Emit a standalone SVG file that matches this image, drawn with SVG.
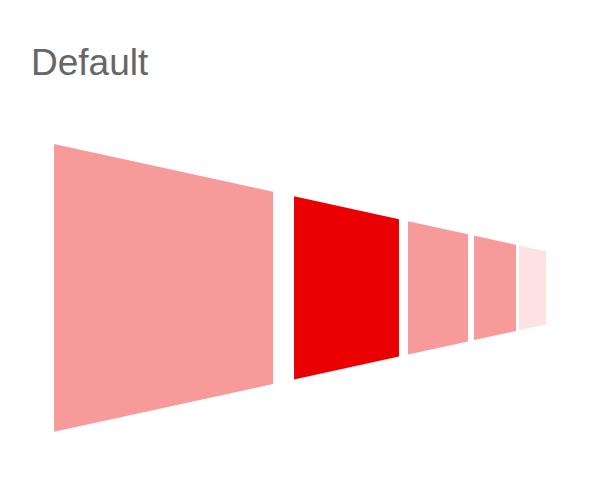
<svg xmlns="http://www.w3.org/2000/svg" width="600" height="486" viewBox="0 0 600 486">
<style>
.title{font-family:"Liberation Sans",Arial,sans-serif;font-size:37px;fill:#666666}
.pink{fill:#f69a9a}
.red{fill:#ea0000}
.light{fill:#fde2e2}
</style>
<rect width="600" height="486" fill="#ffffff"/>
<text class="title" x="31" y="75">Default</text>
<g id="segment1"><polygon class="pink" points="54,144 273,191.7 273,384 54,431.7"/></g>
<g id="segment2"><polygon class="red" points="294,196.3 399,219.2 399,356.5 294,379.4"/></g>
<g id="segment3"><polygon class="pink" points="408,221.2 468,234.3 468,341.4 408,354.5"/></g>
<g id="segment4"><polygon class="pink" points="474,235.6 516,244.7 516,331 474,340.1"/></g>
<g id="segment5"><polygon class="light" points="519,245.4 546,251.3 546,324.4 519,330.3"/></g>
<g id="connectors"></g>
</svg>
